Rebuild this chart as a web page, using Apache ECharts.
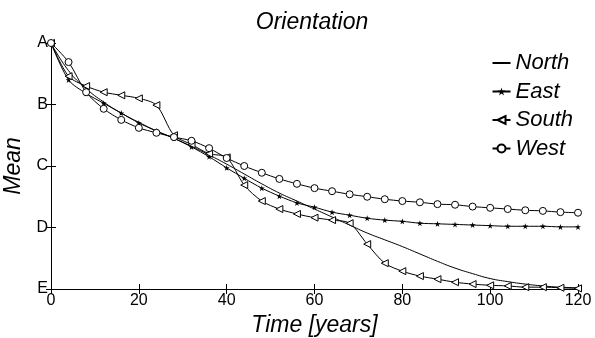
<!DOCTYPE html>
<html><head><meta charset="utf-8">
<script src="https://cdn.jsdelivr.net/npm/echarts@6/dist/echarts.min.js"></script>
<style>html,body{margin:0;padding:0;background:#fff}#c{width:595px;height:338px}</style>
</head><body><div id="c"></div>
<script>
var years = [0,4,8,12,16,20,24,28,32,36,40,44,48,52,56,60,64,68,72,76,80,84,88,92,96,100,104,108,112,116,120];
var north = [4.00,3.55,3.26,3.04,2.86,2.71,2.57,2.45,2.32,2.18,2.03,1.87,1.71,1.56,1.43,1.30,1.17,1.04,0.91,0.80,0.69,0.57,0.45,0.34,0.25,0.17,0.12,0.08,0.05,0.03,0.02];
var east  = [4.00,3.40,3.18,3.02,2.86,2.70,2.57,2.45,2.31,2.15,1.97,1.80,1.64,1.51,1.40,1.33,1.25,1.20,1.15,1.12,1.10,1.07,1.06,1.05,1.04,1.03,1.02,1.02,1.02,1.01,1.01];
var south = [4.00,3.46,3.30,3.20,3.15,3.10,2.99,2.50,2.35,2.20,2.14,1.69,1.43,1.30,1.22,1.16,1.12,1.07,0.73,0.42,0.29,0.21,0.16,0.11,0.08,0.06,0.05,0.03,0.03,0.02,0.01];
var west  = [4.00,3.69,3.20,2.93,2.75,2.62,2.54,2.47,2.41,2.29,2.13,2.00,1.89,1.79,1.71,1.64,1.59,1.54,1.50,1.46,1.43,1.41,1.38,1.37,1.34,1.32,1.30,1.28,1.27,1.25,1.24];
var yLetters = ['E','D','C','B','A'];
var xTicks = [0,20,40,60,80,100,120];

function pairs(a){ return years.map(function(t,i){ return [t,a[i]]; }); }
var FONT = 'Liberation Sans, Arial, sans-serif';
var star = 'path://M0,-10L2.2,-3L9.5,-3.1L3.6,1.2L5.9,8.1L0,3.8L-5.9,8.1L-3.6,1.2L-9.5,-3.1L-2.2,-3Z';

var chart = echarts.init(document.getElementById('c'), null, {renderer:'canvas'});
var axLine = {show:true, lineStyle:{color:'#000', width:1}};
var tick = {show:true, inside:true, length:5, lineStyle:{color:'#000', width:1}};
chart.setOption({
  animation:false,
  backgroundColor:'#fff',
  title:{text:'Orientation', left:307, top:6, textAlign:'center',
    textStyle:{fontFamily:FONT, fontStyle:'italic', fontWeight:'normal', fontSize:23, color:'#000'}},
  grid:{left:51, right:17, top:43, bottom:49, containLabel:false, outerBoundsMode:'none'},
  legend:{orient:'vertical', right:17, top:47, itemGap:6.5, itemWidth:18, itemHeight:10,
    textStyle:{fontFamily:FONT, fontStyle:'italic', fontSize:22, color:'#000'},
    data:[{name:'North', itemStyle:{opacity:0}},'East','South','West']},
  xAxis:[{type:'value', min:0, max:120, interval:20, position:'bottom',
      name:'Time [years]', nameLocation:'middle', nameGap:20,
      nameTextStyle:{fontFamily:FONT, fontStyle:'italic', fontSize:23, color:'#000'},
      axisLine:axLine, axisTick:tick, splitLine:{show:false},
      axisLabel:{fontFamily:FONT, fontSize:16, color:'#000', margin:4}},
    {type:'value', min:0, max:120, interval:20, position:'top',
      axisLine:axLine, axisTick:tick, splitLine:{show:false}, axisLabel:{show:false}}],
  yAxis:[{type:'value', min:0, max:4, interval:1, position:'left',
      name:'Mean', nameLocation:'middle', nameGap:22, nameRotate:90,
      nameTextStyle:{fontFamily:FONT, fontStyle:'italic', fontSize:23, color:'#000'},
      axisLine:axLine, axisTick:tick, splitLine:{show:false},
      axisLabel:{fontFamily:FONT, fontSize:16, color:'#000', margin:3,
        formatter:function(v){ return yLetters[Math.round(v)]; }}},
    {type:'value', min:0, max:4, interval:1, position:'right',
      axisLine:axLine, axisTick:tick, splitLine:{show:false}, axisLabel:{show:false}}],
  series:[
    {name:'North', type:'line', data:pairs(north), smooth:0.5, showSymbol:false, symbol:'none',
      lineStyle:{color:'#000', width:1}, itemStyle:{color:'#000'}},
    {name:'East', type:'line', data:pairs(east), smooth:0.3, symbol:star, symbolSize:6,
      lineStyle:{color:'#000', width:1}, itemStyle:{color:'#000', borderWidth:0}},
    {name:'South', type:'line', data:pairs(south), smooth:0.3, symbol:'triangle', symbolRotate:90, symbolSize:7,
      lineStyle:{color:'#000', width:1}, itemStyle:{color:'#fff', borderColor:'#000', borderWidth:1}},
    {name:'West', type:'line', data:pairs(west), smooth:0.3, symbol:'circle', symbolSize:7,
      lineStyle:{color:'#000', width:1}, itemStyle:{color:'#fff', borderColor:'#000', borderWidth:1}}
  ]
});
</script></body></html>
